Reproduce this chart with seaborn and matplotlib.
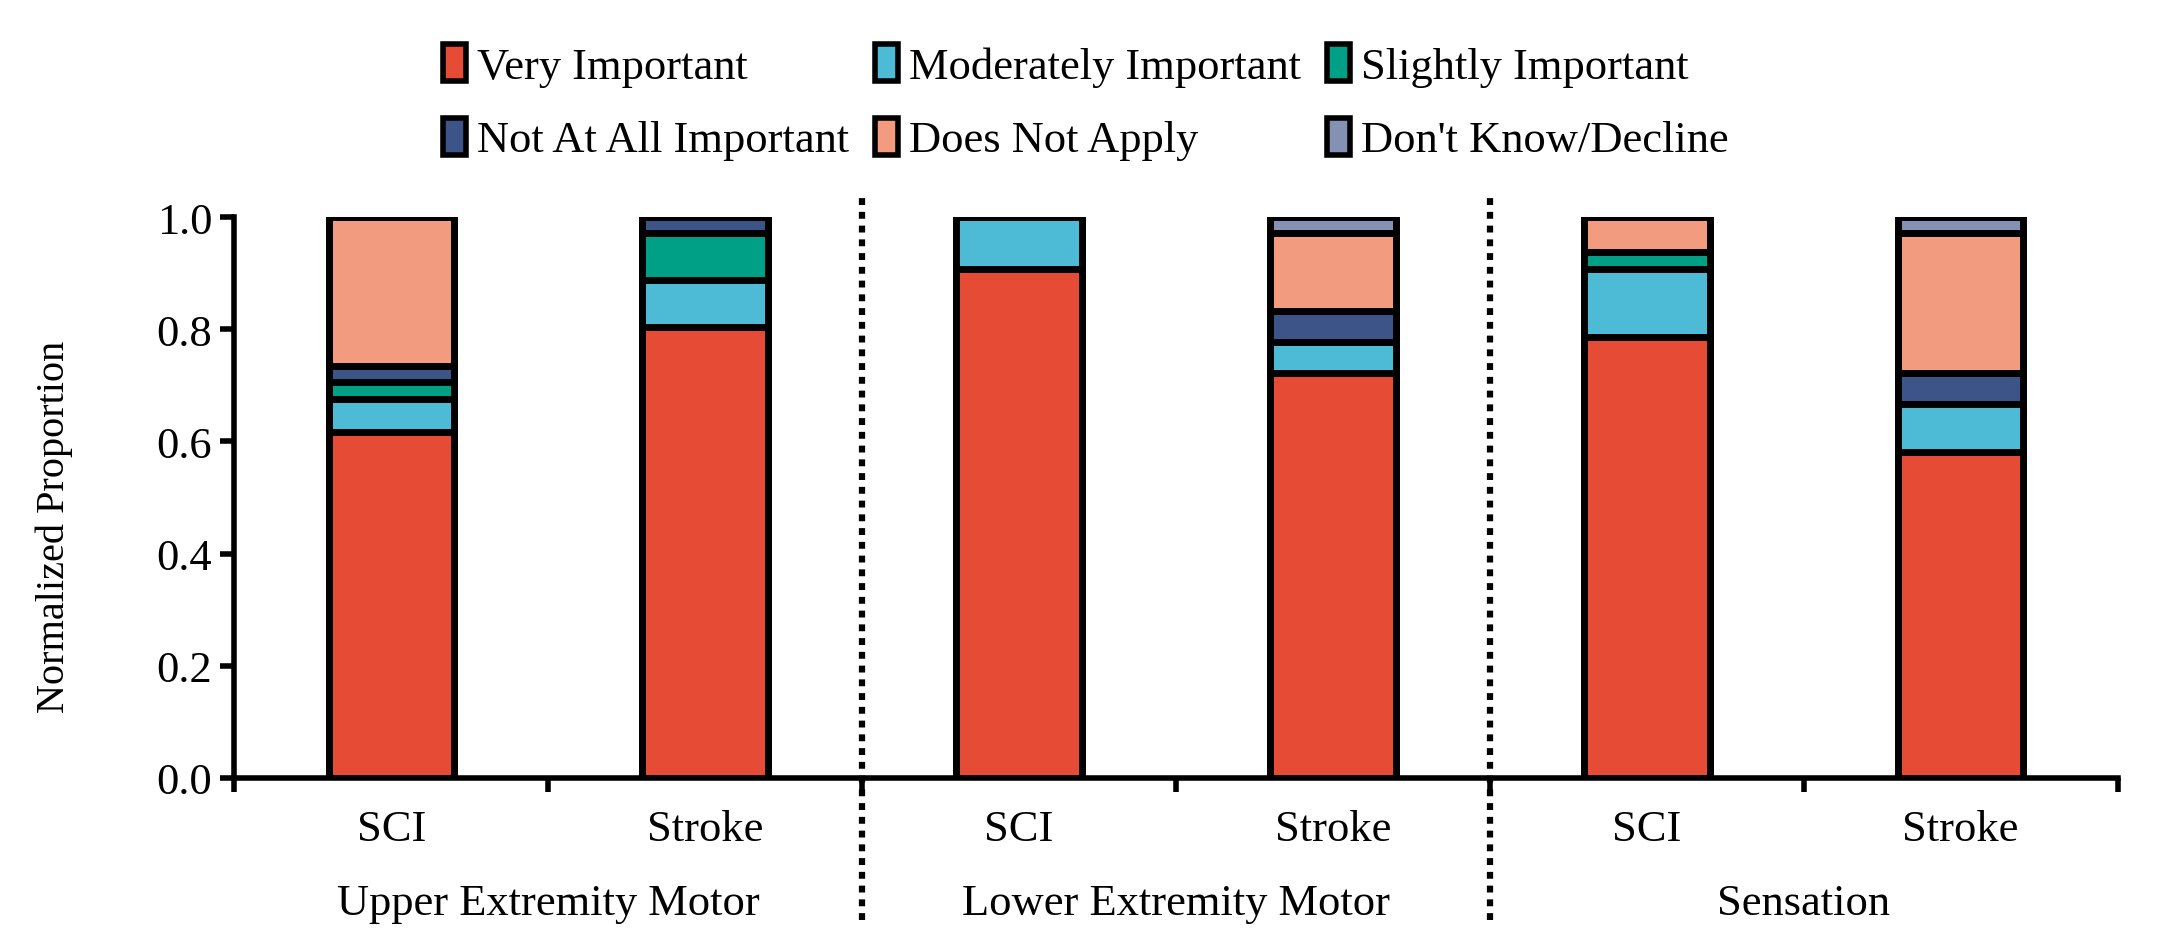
import numpy as np
import pandas as pd
import seaborn as sns
import matplotlib.pyplot as plt
import matplotlib.transforms as mtransforms
from matplotlib.patches import Patch
from matplotlib.ticker import FormatStrFormatter

# bars, left to right
bar_ids = ['UE SCI', 'UE Stroke', 'LE SCI', 'LE Stroke', 'Sens SCI', 'Sens Stroke']
bar_labels = ['SCI', 'Stroke', 'SCI', 'Stroke', 'SCI', 'Stroke']
groups = ['Upper Extremity Motor', 'Lower Extremity Motor', 'Sensation']

responses = ['Very Important', 'Moderately Important', 'Slightly Important',
             'Not At All Important', 'Does Not Apply', "Don't Know/Decline"]
colors = ['#E64B35', '#4DBBD5', '#00A087', '#3C5488', '#F39B7F', '#8491B4']

# proportions
very = [0.617, 0.804, 0.908, 0.722, 0.786, 0.582]
moderately = [0.059, 0.084, 0.092, 0.055, 0.122, 0.084]
slightly = [0.030, 0.083, 0.0, 0.0, 0.030, 0.0]
not_at_all = [0.029, 0.029, 0.0, 0.056, 0.0, 0.056]
does_not_apply = [0.265, 0.0, 0.0, 0.138, 0.062, 0.249]
dont_know = [0.0, 0.0, 0.0, 0.029, 0.0, 0.029]

sns.set_style('ticks')
plt.rcParams['font.family'] = ['Liberation Serif', 'DejaVu Serif']
for key in ['text.color', 'axes.edgecolor', 'axes.labelcolor', 'xtick.color', 'ytick.color']:
    plt.rcParams[key] = 'black'

fig = plt.figure(figsize=(21.63, 9.53), dpi=100)
ax = fig.add_axes([0.1084, 0.1826, 0.8706, 0.5886])

values = np.array([very, moderately, slightly, not_at_all, does_not_apply, dont_know])
cum = np.cumsum(values, axis=0)

# stacked bars: draw cumulative heights from the top category down
for k in range(len(responses) - 1, -1, -1):
    df = pd.DataFrame({'bar': bar_ids, 'top': cum[k]})
    sns.barplot(data=df, x='bar', y='top', order=bar_ids, color=colors[k],
                saturation=1, width=0.4, edgecolor='black', linewidth=5,
                errorbar=None, ax=ax)

ax.set_xlim(-0.5, 5.5)
ax.set_ylim(0, 1)
ax.set_xlabel('')
ax.set_ylabel('Normalized Proportion', fontsize=29)
ax.yaxis.set_label_coords(-0.086, 0.45)

ax.set_xticks(range(len(bar_ids)))
ax.set_xticklabels(bar_labels, fontsize=32)
ax.set_xticks(np.arange(-0.5, len(bar_ids), 1), minor=True)
ax.tick_params(axis='x', which='major', length=0, pad=22)
ax.tick_params(axis='x', which='minor', length=10, width=4, direction='out')

ax.set_yticks([0, 0.2, 0.4, 0.6, 0.8, 1.0])
ax.yaxis.set_major_formatter(FormatStrFormatter('%.1f'))
ax.tick_params(axis='y', length=10, width=4, direction='out', labelsize=32, pad=6)

sns.despine(ax=ax)
for s in ['left', 'bottom']:
    ax.spines[s].set_linewidth(4)

trans = mtransforms.blended_transform_factory(ax.transData, ax.transAxes)
for i, g in enumerate(groups):
    ax.text(2 * i + 0.5, -0.223, g, transform=trans, ha='center', va='center', fontsize=32)

for xv in [1.5, 3.5]:
    ax.axvline(xv, ymin=-0.253, ymax=1.045, clip_on=False, color='black',
               lw=4.5, linestyle=(0, (1.1, 1.1)))

handles = [Patch(facecolor=c, edgecolor='black', linewidth=4, label=r)
           for c, r in zip(colors, responses)]
order = [0, 3, 1, 4, 2, 5]
fig.legend([handles[i] for i in order], [responses[i] for i in order],
           ncol=3, loc='upper center', bbox_to_anchor=(0.502, 0.995),
           frameon=False, fontsize=32, handlelength=0.5, handleheight=0.9,
           handletextpad=0.25, columnspacing=0.6, labelspacing=0.7)

fig.savefig('out.png', dpi=100)
